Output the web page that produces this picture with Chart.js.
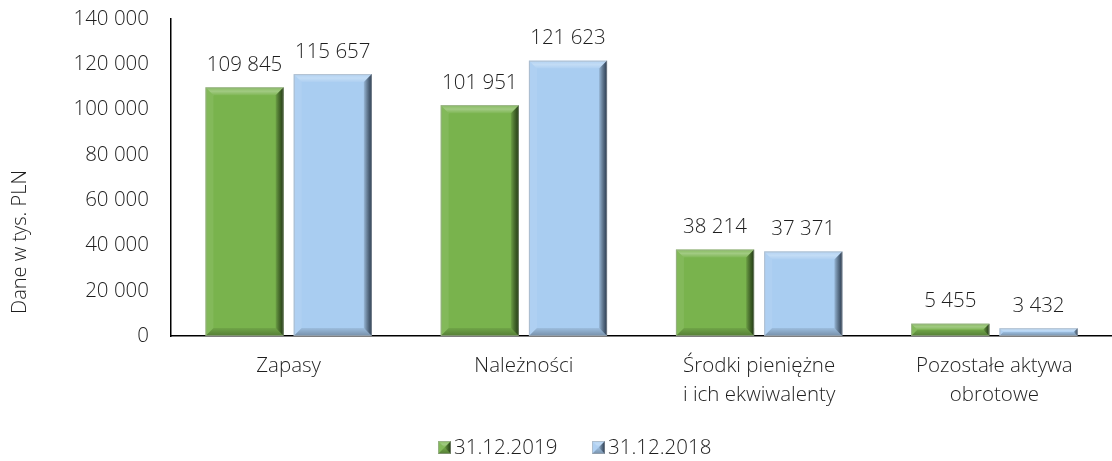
<!DOCTYPE html>
<html><head><meta charset="utf-8">
<script src="https://cdn.jsdelivr.net/npm/chart.js@4/dist/chart.umd.min.js"></script>
<style>html,body{margin:0;padding:0;background:#fff;}#wrap{width:1112px;height:461px;}</style>
</head><body><div id="wrap"><canvas id="c" width="1112" height="461"></canvas></div>
<script>
const categories = ['Zapasy', 'Należności', ['Środki pieniężne', 'i ich ekwiwalenty'], ['Pozostałe aktywa', 'obrotowe']];
const seriesNames = ['31.12.2019', '31.12.2018'];
const values2019 = [109845, 101951, 38214, 5455];
const values2018 = [115657, 121623, 37371, 3432];
const yTicks = [0, 20000, 40000, 60000, 80000, 100000, 120000, 140000];
const axisTitle = 'Dane w tys. PLN';

const FONT = "'Open Sans', 'Liberation Sans', sans-serif";
const TEXT = '#1e1e1e';
const FS = 20.5;
const fmt = v => String(v).replace(/\B(?=(\d{3})+(?!\d))/g, ' ');

function bevel(ctx, l, t, r, b, base, dark) {
  const h = b - t, w = r - l;
  const d = Math.max(0, Math.min(8, h / 2, w / 2));
  ctx.save();
  ctx.fillStyle = base; ctx.fillRect(l, t, w, h);
  ctx.beginPath(); ctx.moveTo(l, t); ctx.lineTo(r, t); ctx.lineTo(r - d, t + d); ctx.lineTo(l + d, t + d); ctx.closePath();
  const g0 = ctx.createLinearGradient(0, t, 0, t + d);
  g0.addColorStop(0, 'rgba(255,255,255,0.1)'); g0.addColorStop(0.5, 'rgba(255,255,255,0.3)'); g0.addColorStop(1, 'rgba(255,255,255,0.05)');
  ctx.fillStyle = g0; ctx.fill();
  ctx.beginPath(); ctx.moveTo(l, t); ctx.lineTo(l + d, t + d); ctx.lineTo(l + d, b - d); ctx.lineTo(l, b); ctx.closePath();
  ctx.fillStyle = 'rgba(255,255,255,0.08)'; ctx.fill();
  ctx.beginPath(); ctx.moveTo(r, t); ctx.lineTo(r, b); ctx.lineTo(r - d, b - d); ctx.lineTo(r - d, t + d); ctx.closePath();
  const g = ctx.createLinearGradient(r - d, 0, r, 0);
  g.addColorStop(0, 'rgba(0,0,0,0.1)'); g.addColorStop(1, dark);
  ctx.fillStyle = g; ctx.fill();
  ctx.beginPath(); ctx.moveTo(l, b); ctx.lineTo(r, b); ctx.lineTo(r - d, b - d); ctx.lineTo(l + d, b - d); ctx.closePath();
  const g2 = ctx.createLinearGradient(0, b - d, 0, b);
  g2.addColorStop(0, 'rgba(0,0,0,0.08)'); g2.addColorStop(1, 'rgba(0,0,0,0.3)');
  ctx.fillStyle = g2; ctx.fill();
  ctx.strokeStyle = 'rgba(170,170,170,0.5)'; ctx.lineWidth = 1;
  ctx.strokeRect(l + 0.5, t + 0.5, w - 1, h - 1);
  ctx.restore();
}

const colors = ['#79b34d', '#a9cdf1'];
const darks = ['rgba(20,40,10,0.85)', 'rgba(20,35,55,0.85)'];

const decor = {
  id: 'decor',
  afterDatasetsDraw(chart) {
    const ctx = chart.ctx;
    chart.data.datasets.forEach((ds, i) => {
      const meta = chart.getDatasetMeta(i);
      meta.data.forEach((bar, j) => {
        const p = bar.getProps(['x', 'y', 'base', 'width'], true);
        bevel(ctx, p.x - p.width / 2, p.y, p.x + p.width / 2, p.base, colors[i], darks[i]);
        ctx.save();
        ctx.font = '300 ' + FS + 'px ' + FONT; ctx.fillStyle = TEXT;
        ctx.textAlign = 'center'; ctx.textBaseline = 'middle';
        ctx.fillText(fmt(ds.data[j]), p.x, p.y - 22);
        ctx.restore();
      });
    });
    ctx.save();
    ctx.font = '300 20px ' + FONT; ctx.fillStyle = TEXT;
    ctx.translate(20, 242); ctx.rotate(-Math.PI / 2);
    ctx.textAlign = 'center'; ctx.textBaseline = 'middle';
    ctx.fillText(axisTitle, 0, 0);
    ctx.restore();
    ctx.save();
    ctx.font = '300 ' + FS + 'px ' + FONT; ctx.textBaseline = 'middle';
    const legendX = [438, 592], ly = 447;
    chart.data.datasets.forEach((ds, i) => {
      bevel(ctx, legendX[i], ly - 6, legendX[i] + 13, ly + 7, colors[i], darks[i]);
      ctx.fillStyle = TEXT;
      ctx.fillText(ds.label, legendX[i] + 16, ly + 1);
    });
    ctx.restore();
  }
};

new Chart(document.getElementById('c'), {
  type: 'bar',
  data: {
    labels: categories,
    datasets: [
      { label: seriesNames[0], data: values2019, backgroundColor: 'rgba(0,0,0,0)' },
      { label: seriesNames[1], data: values2018, backgroundColor: 'rgba(0,0,0,0)' }
    ]
  },
  options: {
    responsive: false,
    animation: false,
    devicePixelRatio: 1,
    layout: { padding: { top: 19, right: 0, bottom: 0, left: 0 } },
    categoryPercentage: 0.75,
    barPercentage: 0.886,
    plugins: { legend: { display: false }, tooltip: { enabled: false } },
    scales: {
      x: {
        grid: { display: false, drawTicks: false },
        border: { display: true, color: '#000', width: 1.5 },
        ticks: { color: TEXT, font: { family: FONT, size: FS, weight: 300, lineHeight: 1.4 }, padding: 16, maxRotation: 0, autoSkip: false },
        afterFit(s) { s.height = 125; s.paddingLeft = 0; s.paddingRight = 0; }
      },
      y: {
        min: 0, max: 140000,
        afterBuildTicks(s) { s.ticks = yTicks.map(v => ({ value: v })); },
        grid: { display: false, drawTicks: false },
        border: { display: true, color: '#000', width: 1.5 },
        ticks: { color: TEXT, font: { family: FONT, size: FS, weight: 300 }, padding: 22, callback: v => fmt(v) },
        afterFit(s) { s.width = 171; s.paddingTop = 0; s.paddingBottom = 0; }
      }
    }
  },
  plugins: [decor]
});
</script></body></html>
